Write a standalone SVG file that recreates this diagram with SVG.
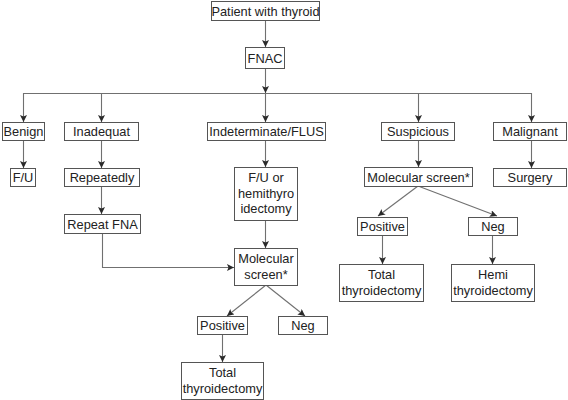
<svg xmlns="http://www.w3.org/2000/svg" width="568" height="400" viewBox="0 0 568 400">
<defs>
<marker id="ah" markerUnits="userSpaceOnUse" markerWidth="8" markerHeight="8" refX="7" refY="3.5" orient="auto">
<path d="M0,0 L7,3.5 L0,7 L1.5,3.5 z" fill="#2a2a2a"/>
</marker>
<style>
.box{fill:#fff;stroke:#555;stroke-width:1}
.t{font-family:"Liberation Sans",Arial,sans-serif;font-size:12.8px;fill:#222;text-anchor:middle}
.c{fill:none;stroke:#707070;stroke-width:1.1}
.a{marker-end:url(#ah)}
</style>
</defs>
<rect width="568" height="400" fill="#fff"/>
<g id="connectors">
<line class="c a" x1="265.5" y1="20" x2="265.5" y2="47"/>
<line class="c a" x1="265.5" y1="68" x2="265.5" y2="93"/>
<line class="c" x1="23.5" y1="93.5" x2="531.5" y2="93.5"/>
<line class="c a" x1="23.5" y1="93" x2="23.5" y2="122"/>
<line class="c a" x1="101.5" y1="93" x2="101.5" y2="122"/>
<line class="c a" x1="265.5" y1="93" x2="265.5" y2="122"/>
<line class="c a" x1="418.5" y1="93" x2="418.5" y2="122"/>
<line class="c a" x1="531.5" y1="93" x2="531.5" y2="122"/>
<line class="c a" x1="23.5" y1="140" x2="23.5" y2="168"/>
<line class="c a" x1="101.5" y1="140" x2="101.5" y2="168"/>
<line class="c a" x1="101.5" y1="186" x2="101.5" y2="214"/>
<polyline class="c a" points="102.5,233 102.5,267.5 234,267.5"/>
<line class="c a" x1="265.5" y1="140" x2="265.5" y2="167"/>
<line class="c a" x1="265.5" y1="220" x2="265.5" y2="248"/>
<line class="c a" x1="266" y1="285" x2="227" y2="316"/>
<line class="c a" x1="266" y1="285" x2="305" y2="316"/>
<line class="c a" x1="222.5" y1="334" x2="222.5" y2="362"/>
<line class="c a" x1="418.5" y1="140" x2="418.5" y2="167"/>
<line class="c a" x1="531.5" y1="140" x2="531.5" y2="168"/>
<line class="c a" x1="418" y1="186" x2="378" y2="216"/>
<line class="c a" x1="418" y1="186" x2="497" y2="216"/>
<line class="c a" x1="382.5" y1="236" x2="382.5" y2="264"/>
<line class="c a" x1="492.5" y1="236" x2="492.5" y2="264"/>
</g>
<g id="n-patient"><rect class="box" x="211.5" y="1.5" width="108" height="19"/><text class="t" x="265.5" y="15.5">Patient with thyroid</text></g>
<g id="n-fnac"><rect class="box" x="245.5" y="47.5" width="39" height="21"/><text class="t" x="265" y="62.5">FNAC</text></g>
<g id="n-benign"><rect class="box" x="2.5" y="122.5" width="42" height="18"/><text class="t" x="23.5" y="136">Benign</text></g>
<g id="n-inadequat"><rect class="box" x="64.5" y="122.5" width="74" height="18"/><text class="t" x="101.5" y="136">Inadequat</text></g>
<g id="n-indeterminate"><rect class="box" x="207.5" y="122.5" width="118" height="18"/><text class="t" x="266.5" y="136">Indeterminate/FLUS</text></g>
<g id="n-suspicious"><rect class="box" x="381.5" y="122.5" width="73" height="18"/><text class="t" x="418" y="136">Suspicious</text></g>
<g id="n-malignant"><rect class="box" x="493.5" y="122.5" width="73" height="18"/><text class="t" x="530" y="136">Malignant</text></g>
<g id="n-fu"><rect class="box" x="10.5" y="168.5" width="25" height="18"/><text class="t" x="23" y="182">F/U</text></g>
<g id="n-repeatedly"><rect class="box" x="64.5" y="168.5" width="75" height="18"/><text class="t" x="102" y="182">Repeatedly</text></g>
<g id="n-repeatfna"><rect class="box" x="64.5" y="214.5" width="76" height="19"/><text class="t" x="102.5" y="228.5">Repeat FNA</text></g>
<g id="n-fuhemi"><rect class="box" x="234.5" y="167.5" width="63" height="53"/><text class="t" x="266" y="182">F/U or</text><text class="t" x="266" y="197.5">hemithyro</text><text class="t" x="266" y="213">idectomy</text></g>
<g id="n-mol-left"><rect class="box" x="234.5" y="248.5" width="63" height="37"/><text class="t" x="266" y="263">Molecular</text><text class="t" x="266" y="278.5">screen*</text></g>
<g id="n-pos-left"><rect class="box" x="197.5" y="316.5" width="50" height="18"/><text class="t" x="222.5" y="330">Positive</text></g>
<g id="n-neg-left"><rect class="box" x="278.5" y="316.5" width="49" height="18"/><text class="t" x="303" y="330">Neg</text></g>
<g id="n-total-left"><rect class="box" x="181.5" y="362.5" width="82" height="37"/><text class="t" x="222.5" y="377">Total</text><text class="t" x="222.5" y="392.5">thyroidectomy</text></g>
<g id="n-mol-right"><rect class="box" x="364.5" y="167.5" width="108" height="19"/><text class="t" x="418.5" y="181.5">Molecular screen*</text></g>
<g id="n-surgery"><rect class="box" x="493.5" y="168.5" width="73" height="18"/><text class="t" x="530" y="182">Surgery</text></g>
<g id="n-pos-right"><rect class="box" x="357.5" y="217.5" width="50" height="18"/><text class="t" x="382.5" y="231">Positive</text></g>
<g id="n-neg-right"><rect class="box" x="468.5" y="217.5" width="49" height="18"/><text class="t" x="493" y="231">Neg</text></g>
<g id="n-total-right"><rect class="box" x="339.5" y="264.5" width="84" height="37"/><text class="t" x="381.5" y="279">Total</text><text class="t" x="381.5" y="294.5">thyroidectomy</text></g>
<g id="n-hemi"><rect class="box" x="451.5" y="264.5" width="83" height="37"/><text class="t" x="493" y="279">Hemi</text><text class="t" x="493" y="294.5">thyroidectomy</text></g>
</svg>
